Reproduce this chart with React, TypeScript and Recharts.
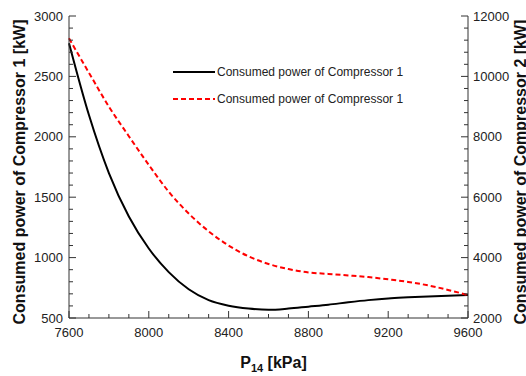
import { LineChart, Line, XAxis, YAxis, Legend } from "recharts"

const pressure = [7600, 7700, 7800, 7900, 8000, 8100, 8200, 8300, 8400, 8500, 8600, 8700, 8800, 8900, 9000, 9100, 9200, 9300, 9400, 9500, 9600]
const comp1 = [2775, 2180, 1700, 1340, 1075, 880, 738, 648, 602, 578, 568, 578, 594, 610, 630, 648, 662, 671, 679, 685, 690]
const comp2 = [11260, 10120, 9000, 8020, 7070, 6180, 5460, 4870, 4400, 4040, 3790, 3620, 3510, 3460, 3410, 3355, 3280, 3195, 3080, 2930, 2760]

const xTicks = [7600, 7700, 7800, 7900, 8000, 8100, 8200, 8300, 8400, 8500, 8600, 8700, 8800, 8900, 9000, 9100, 9200, 9300, 9400, 9500, 9600]
const leftTicks = [500, 600, 700, 800, 900, 1000, 1100, 1200, 1300, 1400, 1500, 1600, 1700, 1800, 1900, 2000, 2100, 2200, 2300, 2400, 2500, 2600, 2700, 2800, 2900, 3000]
const rightTicks = [2000, 2400, 2800, 3200, 3600, 4000, 4400, 4800, 5200, 5600, 6000, 6400, 6800, 7200, 7600, 8000, 8400, 8800, 9200, 9600, 10000, 10400, 10800, 11200, 11600, 12000]

const seriesNames = ["Consumed power of Compressor 1", "Consumed power of Compressor 1"]

const data = pressure.map((p, i) => ({ p, c1: comp1[i], c2: comp2[i] }))

const axisColor = "#333"
const textColor = "#222"
const font = "'Liberation Sans', Arial, sans-serif"

function BottomTick({ x, y, payload }: any) {
  const major = payload.value % 400 === 0
  return (
    <g>
      <path d={`M${x},${y}L${x},${y - (major ? 7 : 4)}`} stroke={axisColor} strokeWidth={1} />
      {major && (
        <text x={x} y={y + 19} textAnchor="middle" fontSize={13} fill={textColor}>
          {payload.value}
        </text>
      )}
    </g>
  )
}

function TopTick({ x, y, payload }: any) {
  const major = payload.value % 400 === 0
  return <path d={`M${x},${y}L${x},${y + (major ? 7 : 4)}`} stroke={axisColor} strokeWidth={1} />
}

function LeftTick({ x, y, payload }: any) {
  const major = payload.value % 500 === 0
  return (
    <g>
      <path d={`M${x},${y}L${x + (major ? 7 : 4)},${y}`} stroke={axisColor} strokeWidth={1} />
      {major && (
        <text x={x - 6} y={y + 4.5} textAnchor="end" fontSize={13} fill={textColor}>
          {payload.value}
        </text>
      )}
    </g>
  )
}

function RightTick({ x, y, payload }: any) {
  const major = payload.value % 2000 === 0
  return (
    <g>
      <path d={`M${x},${y}L${x - (major ? 7 : 4)},${y}`} stroke={axisColor} strokeWidth={1} />
      {major && (
        <text x={x + 5} y={y + 4.5} textAnchor="start" fontSize={13} fill={textColor}>
          {payload.value}
        </text>
      )}
    </g>
  )
}

function renderLegend() {
  const row = (dash: string | undefined, color: string, label: string, top: number) => (
    <div style={{ position: "absolute", left: 0, top, display: "flex", alignItems: "center", height: 14 }}>
      <svg width={46} height={14}>
        <line x1={2} y1={7} x2={44} y2={7} stroke={color} strokeWidth={2} strokeDasharray={dash} />
      </svg>
      <span style={{ fontSize: 12, color: textColor, fontFamily: font, whiteSpace: "nowrap" }}>{label}</span>
    </div>
  )
  return (
    <div style={{ position: "relative", width: 260, height: 44 }}>
      {row(undefined, "#000", seriesNames[0], 0)}
      {row("5 3", "#ff0000", seriesNames[1], 27)}
    </div>
  )
}

export default function App() {
  return (
    <div style={{ position: "absolute", left: 0, top: 0, fontFamily: font }}>
      <LineChart width={526} height={376} data={data} margin={{ top: 16, right: 0, bottom: 0, left: 0 }}>
        <XAxis
          xAxisId="b"
          dataKey="p"
          type="number"
          domain={[7600, 9600]}
          ticks={xTicks}
          interval={0}
          height={58}
          tickSize={0}
          tickMargin={0}
          axisLine={{ stroke: axisColor }}
          tick={(props: any) => <BottomTick {...props} />}
          label={{
            content: (props: any) => {
              const vb = props.viewBox
              const cx = vb.x + vb.width / 2 + 5
              const cy = vb.y + 50
              return (
                <text x={cx} y={cy} textAnchor="middle" fontSize={16} fontWeight="bold" fill="#111">
                  P<tspan fontSize={11} dy={4}>14</tspan>
                  <tspan dy={-4}> [kPa]</tspan>
                </text>
              )
            },
          }}
        />
        <XAxis
          xAxisId="t"
          orientation="top"
          dataKey="p"
          type="number"
          domain={[7600, 9600]}
          ticks={xTicks}
          interval={0}
          height={0}
          tickSize={0}
          tickMargin={0}
          axisLine={{ stroke: axisColor }}
          tick={(props: any) => <TopTick {...props} />}
        />
        <YAxis
          yAxisId="l"
          type="number"
          domain={[500, 3000]}
          ticks={leftTicks}
          interval={0}
          width={69}
          tickSize={0}
          tickMargin={0}
          axisLine={{ stroke: axisColor }}
          tick={(props: any) => <LeftTick {...props} />}
          label={{
            content: (props: any) => {
              const vb = props.viewBox
              const cx = vb.x + 19
              const cy = vb.y + vb.height / 2 + 5
              return (
                <text x={cx} y={cy} transform={`rotate(-90 ${cx} ${cy})`} textAnchor="middle" dominantBaseline="central" fontSize={16} fontWeight="bold" fill="#111">
                  Consumed power of Compressor 1 [kW]
                </text>
              )
            },
          }}
        />
        <YAxis
          yAxisId="r"
          orientation="right"
          type="number"
          domain={[2000, 12000]}
          ticks={rightTicks}
          interval={0}
          width={58}
          tickSize={0}
          tickMargin={0}
          axisLine={{ stroke: axisColor }}
          tick={(props: any) => <RightTick {...props} />}
          label={{
            content: (props: any) => {
              const vb = props.viewBox
              const cx = vb.x + 52
              const cy = vb.y + vb.height / 2 + 5
              return (
                <text x={cx} y={cy} transform={`rotate(-90 ${cx} ${cy})`} textAnchor="middle" dominantBaseline="central" fontSize={16} fontWeight="bold" fill="#111">
                  Consumed power of Compressor 2 [kW]
                </text>
              )
            },
          }}
        />
        <Legend
          layout="vertical"
          align="center"
          verticalAlign="middle"
          content={renderLegend}
          wrapperStyle={{ left: 171, top: 65, width: 260, height: 44 }}
        />
        <Line
          xAxisId="b"
          yAxisId="l"
          type="monotone"
          dataKey="c1"
          stroke="#000"
          strokeWidth={2}
          dot={false}
          isAnimationActive={false}
        />
        <Line
          xAxisId="b"
          yAxisId="r"
          type="monotone"
          dataKey="c2"
          stroke="#ff0000"
          strokeWidth={2}
          strokeDasharray="5 3"
          dot={false}
          isAnimationActive={false}
        />
      </LineChart>
    </div>
  )
}
